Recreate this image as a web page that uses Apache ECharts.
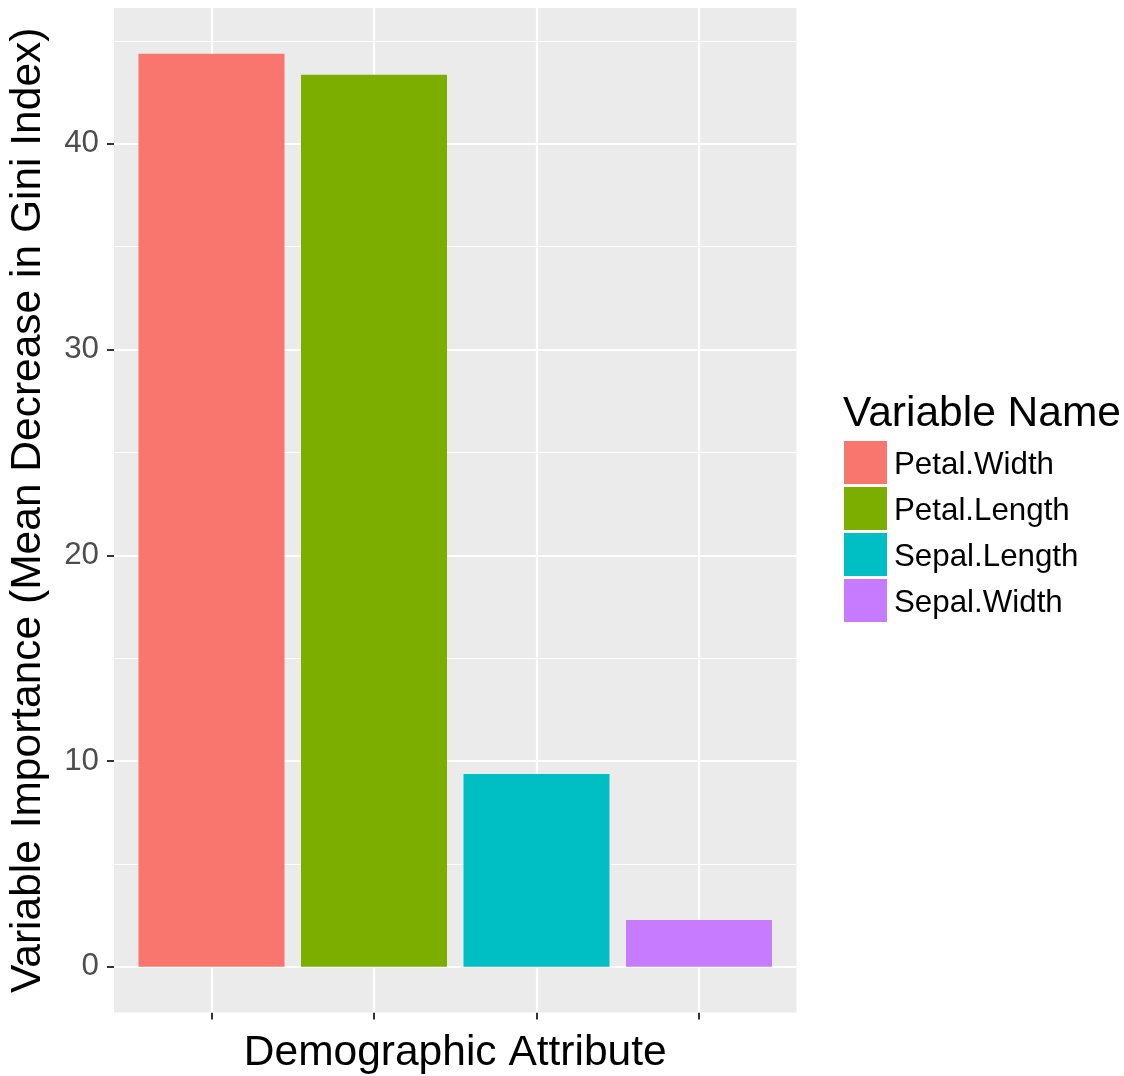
<!DOCTYPE html>
<html>
<head>
<meta charset="utf-8">
<script src="https://cdn.jsdelivr.net/npm/echarts@6/dist/echarts.min.js"></script>
<style>
html,body{margin:0;padding:0;background:#fff;}
#c{width:1124px;height:1076px;}
</style>
</head>
<body>
<div id="c"></div>
<script>
var categories = ["Petal.Width", "Petal.Length", "Sepal.Length", "Sepal.Width"];
var positions = [1, 2, 3, 4];
var values = [44.38, 43.35, 9.37, 2.28];
var colors = ["#F8766D", "#7CAE00", "#00BFC4", "#C77CFF"];
var yMajorTicks = [0, 10, 20, 30, 40];
var yMinorTicks = [5, 15, 25, 35, 45];

var FONT = "'Liberation Sans', Arial, Helvetica, sans-serif";
var maxVal = Math.max.apply(null, values);
var yMin = -0.05 * maxVal, yMax = 1.05 * maxVal;

var chart = echarts.init(document.getElementById('c'), null, {renderer: 'canvas'});

var series = categories.map(function (name, i) {
  return {
    name: name,
    type: 'bar',
    barWidth: 146,
    barGap: '-100%',
    z: 10,
    itemStyle: {color: colors[i]},
    data: [[positions[i], values[i]]]
  };
});

var gridLines = [];
yMinorTicks.forEach(function (v) { gridLines.push({yAxis: v, lineStyle: {width: 1.1}}); });
yMajorTicks.forEach(function (v) { gridLines.push({yAxis: v, lineStyle: {width: 2.2}}); });
positions.forEach(function (v) { gridLines.push({xAxis: v, lineStyle: {width: 2.2}}); });

series.push({
  name: '__grid',
  type: 'line',
  z: 1,
  data: [],
  markLine: {
    silent: true,
    z: 1,
    symbol: ['none', 'none'],
    label: {show: false},
    animation: false,
    lineStyle: {color: '#FFFFFF', type: 'solid'},
    data: gridLines
  }
});

chart.setOption({
  animation: false,
  textStyle: {fontFamily: FONT},
  title: {
    text: 'Variable Name',
    left: 843,
    top: 393,
    padding: 0,
    textStyle: {fontFamily: FONT, fontSize: 42.5, fontWeight: 'normal', color: '#000'}
  },
  legend: {
    data: categories,
    orient: 'vertical',
    left: 844,
    top: 441,
    padding: 0,
    itemWidth: 43,
    itemHeight: 43,
    itemGap: 3,
    icon: 'rect',
    formatter: '{a|{name}}',
    textStyle: {
      fontFamily: FONT, fontSize: 31.3, color: '#000',
      rich: {a: {fontFamily: FONT, fontSize: 31.3, color: '#000', padding: [6, 0, 0, 2]}}
    }
  },
  grid: {
    left: 114,
    right: 327.5,
    top: 8,
    bottom: 63.5,
    show: true,
    backgroundColor: '#EBEBEB',
    borderWidth: 0,
    containLabel: false,
    outerBoundsMode: 'none'
  },
  xAxis: {
    type: 'value',
    position: 'bottom',
    min: 0.4,
    max: 4.6,
    name: 'Demographic Attribute',
    nameLocation: 'middle',
    nameGap: 19,
    nameTextStyle: {fontFamily: FONT, fontSize: 42.5, color: '#000'},
    axisLine: {show: false, onZero: false},
    splitLine: {show: false},
    axisLabel: {show: true, customValues: positions, formatter: function () { return ''; }},
    axisTick: {show: true, customValues: positions, length: 7, inside: false, lineStyle: {color: '#333333', width: 2}}
  },
  yAxis: {
    type: 'value',
    min: yMin,
    max: yMax,
    name: 'Variable Importance (Mean Decrease in Gini Index)',
    nameLocation: 'middle',
    nameRotate: 90,
    nameGap: 64,
    nameTextStyle: {fontFamily: FONT, fontSize: 42.5, color: '#000'},
    axisLine: {show: false, onZero: false},
    splitLine: {show: false},
    axisLabel: {customValues: yMajorTicks, margin: 15, fontFamily: FONT, fontSize: 31.3, color: '#4D4D4D'},
    axisTick: {show: true, customValues: yMajorTicks, length: 7, inside: false, lineStyle: {color: '#333333', width: 2}}
  },
  series: series
});
</script>
</body>
</html>
